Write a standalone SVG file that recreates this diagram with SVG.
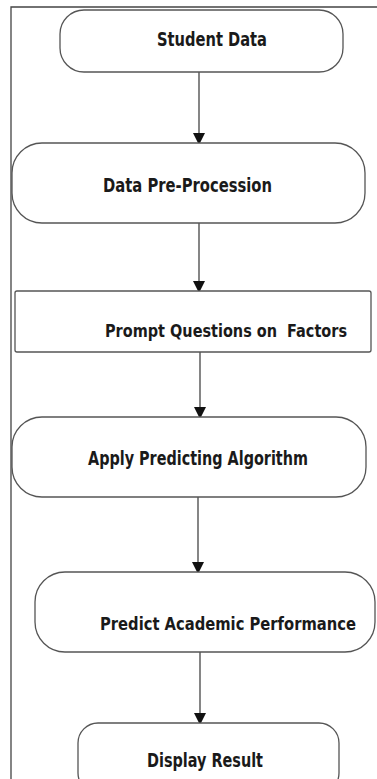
<svg xmlns="http://www.w3.org/2000/svg" width="377" height="779" viewBox="0 0 377 779">
<defs>
<style>
.box{fill:#fff;stroke:#555;stroke-width:1.3}
.lbl{font-family:"DejaVu Sans Condensed","Liberation Sans Narrow","Liberation Sans",sans-serif;font-weight:bold;fill:#1a1a1a;font-size:20px}
.sm{font-size:17px}
.conn{stroke:#444;stroke-width:1.3;fill:none}
</style>
<marker id="arr" markerWidth="12" markerHeight="14" refX="10" refY="6" orient="auto" markerUnits="userSpaceOnUse">
<path d="M0,0 L12,6 L0,12 Z" fill="#111"/>
</marker>
</defs>
<rect x="0" y="0" width="377" height="779" fill="#fff"/>
<path d="M11,779 V7 H377" fill="none" stroke="#444" stroke-width="1.3"/>
<g id="connectors">
<line class="conn" x1="199" y1="72" x2="199" y2="143" marker-end="url(#arr)"/>
<line class="conn" x1="199" y1="223" x2="199" y2="291" marker-end="url(#arr)"/>
<line class="conn" x1="200" y1="352" x2="200" y2="417" marker-end="url(#arr)"/>
<line class="conn" x1="198" y1="497" x2="198" y2="572" marker-end="url(#arr)"/>
<line class="conn" x1="200" y1="652" x2="200" y2="723" marker-end="url(#arr)"/>
</g>
<g id="n1">
<rect class="box" x="60" y="10" width="283" height="62" rx="24"/>
<text class="lbl" x="157" y="46" textLength="110" lengthAdjust="spacingAndGlyphs">Student Data</text>
</g>
<g id="n2">
<rect class="box" x="12" y="143" width="353" height="80" rx="30"/>
<text class="lbl" x="103" y="192" textLength="169" lengthAdjust="spacingAndGlyphs">Data Pre-Procession</text>
</g>
<g id="n3">
<rect class="box" x="15" y="291" width="356" height="61" rx="2"/>
<text class="lbl sm" x="105" y="337" textLength="242" lengthAdjust="spacingAndGlyphs" xml:space="preserve">Prompt Questions on  Factors</text>
</g>
<g id="n4">
<rect class="box" x="12" y="417" width="354" height="80" rx="30"/>
<text class="lbl" x="88" y="465" textLength="220" lengthAdjust="spacingAndGlyphs">Apply Predicting Algorithm</text>
</g>
<g id="n5">
<rect class="box" x="35" y="572" width="340" height="80" rx="30"/>
<text class="lbl sm" x="100" y="630" textLength="256" lengthAdjust="spacingAndGlyphs">Predict Academic Performance</text>
</g>
<g id="n6">
<rect class="box" x="78" y="723" width="261" height="70" rx="20"/>
<text class="lbl" x="147" y="767" textLength="116" lengthAdjust="spacingAndGlyphs">Display Result</text>
</g>
</svg>
